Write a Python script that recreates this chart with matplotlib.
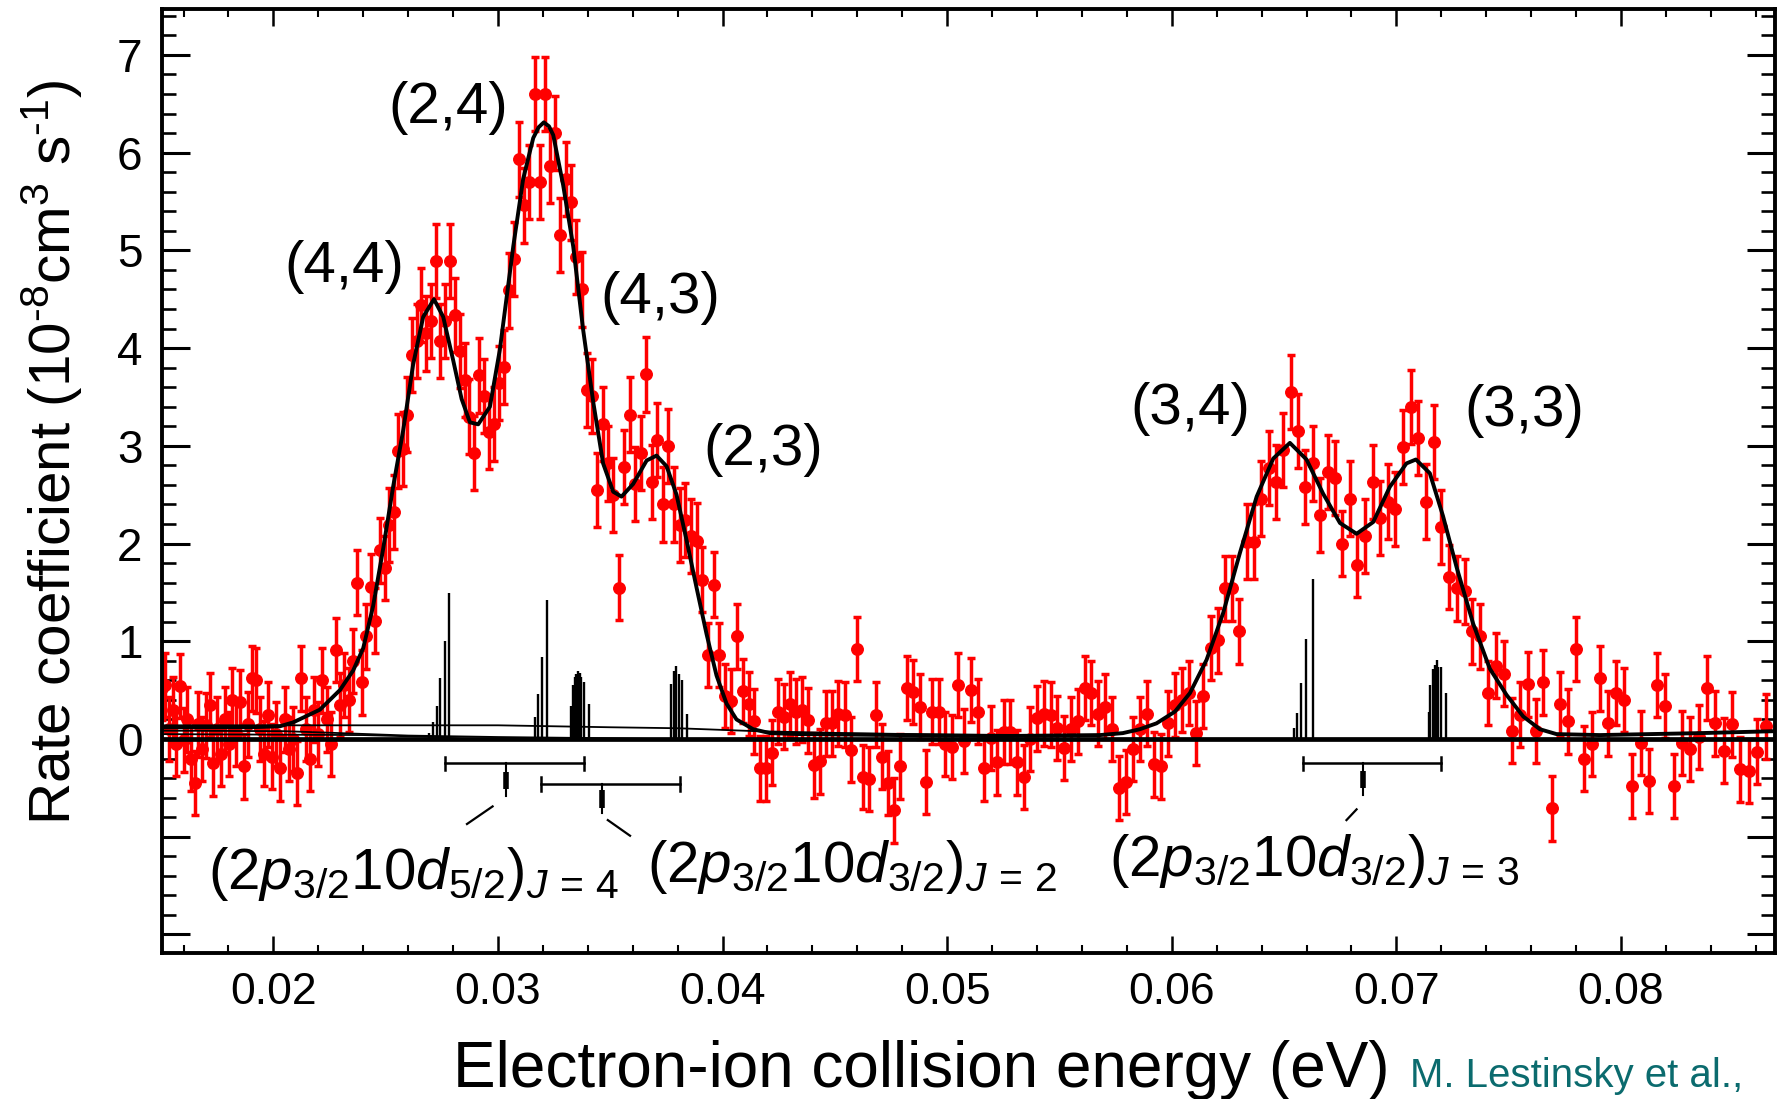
import matplotlib
matplotlib.use('Agg')
import matplotlib.pyplot as plt
import numpy as np
from matplotlib.ticker import MultipleLocator, FuncFormatter

plt.rcParams['font.family'] = ['Liberation Sans', 'DejaVu Sans']
plt.rcParams['mathtext.fontset'] = 'custom'
plt.rcParams['mathtext.rm'] = 'Liberation Sans'
plt.rcParams['mathtext.it'] = 'Liberation Sans:italic'
plt.rcParams['mathtext.bf'] = 'Liberation Sans:bold'

# measured points (eV, 1e-8 cm^3 s^-1)
energy = [
    0.01503, 0.01519, 0.01535, 0.01552, 0.01568, 0.01584, 0.01600, 0.01616, 0.01632, 0.01649,
    0.01665, 0.01682, 0.01699, 0.01716, 0.01733, 0.01750, 0.01767, 0.01784, 0.01801, 0.01817,
    0.01834, 0.01852, 0.01870, 0.01888, 0.01906, 0.01923, 0.01941, 0.01959, 0.01977, 0.01995,
    0.02012, 0.02031, 0.02050, 0.02068, 0.02087, 0.02106, 0.02124, 0.02143, 0.02162, 0.02180,
    0.02199, 0.02218, 0.02238, 0.02257, 0.02277, 0.02296, 0.02315, 0.02335, 0.02354, 0.02374,
    0.02393, 0.02414, 0.02434, 0.02454, 0.02474, 0.02495, 0.02515, 0.02535, 0.02555, 0.02576,
    0.02596, 0.02617, 0.02638, 0.02659, 0.02680, 0.02702, 0.02723, 0.02744, 0.02765, 0.02786,
    0.02807, 0.02829, 0.02851, 0.02873, 0.02895, 0.02917, 0.02939, 0.02961, 0.02982, 0.03004,
    0.03026, 0.03049, 0.03072, 0.03095, 0.03117, 0.03140, 0.03163, 0.03186, 0.03208, 0.03231,
    0.03254, 0.03277, 0.03301, 0.03324, 0.03348, 0.03372, 0.03395, 0.03419, 0.03442, 0.03466,
    0.03489, 0.03514, 0.03538, 0.03563, 0.03587, 0.03611, 0.03636, 0.03660, 0.03685, 0.03709,
    0.03733, 0.03759, 0.03784, 0.03809, 0.03834, 0.03860, 0.03885, 0.03910, 0.03935, 0.03960,
    0.03986, 0.04012, 0.04038, 0.04064, 0.04090, 0.04116, 0.04142, 0.04168, 0.04194, 0.04220,
    0.04246, 0.04273, 0.04300, 0.04327, 0.04354, 0.04380, 0.04407, 0.04434, 0.04461, 0.04488,
    0.04515, 0.04543, 0.04570, 0.04598, 0.04626, 0.04653, 0.04681, 0.04709, 0.04736, 0.04764,
    0.04792, 0.04820, 0.04849, 0.04877, 0.04906, 0.04934, 0.04963, 0.04991, 0.05020, 0.05048,
    0.05077, 0.05106, 0.05136, 0.05165, 0.05194, 0.05224, 0.05253, 0.05282, 0.05312, 0.05341,
    0.05370, 0.05401, 0.05431, 0.05461, 0.05491, 0.05521, 0.05551, 0.05582, 0.05612, 0.05642,
    0.05672, 0.05703, 0.05734, 0.05765, 0.05796, 0.05827, 0.05858, 0.05889, 0.05920, 0.05951,
    0.05982, 0.06014, 0.06046, 0.06077, 0.06109, 0.06141, 0.06173, 0.06205, 0.06237, 0.06268,
    0.06300, 0.06333, 0.06365, 0.06398, 0.06431, 0.06463, 0.06496, 0.06529, 0.06561, 0.06594,
    0.06627, 0.06660, 0.06694, 0.06727, 0.06760, 0.06794, 0.06827, 0.06861, 0.06894, 0.06928,
    0.06961, 0.06996, 0.07030, 0.07064, 0.07098, 0.07133, 0.07167, 0.07201, 0.07236, 0.07270,
    0.07304, 0.07339, 0.07374, 0.07409, 0.07445, 0.07480, 0.07515, 0.07550, 0.07585, 0.07620,
    0.07655, 0.07691, 0.07727, 0.07763, 0.07799, 0.07835, 0.07871, 0.07907, 0.07943, 0.07979,
    0.08015, 0.08051, 0.08088, 0.08125, 0.08162, 0.08198, 0.08235, 0.08272, 0.08309, 0.08346,
    0.08382, 0.08420, 0.08457, 0.08495, 0.08532, 0.08570, 0.08607, 0.08645,
]
rate = [
    0.52, 0.55, 0.10, 0.30, -0.05, 0.54, -0.01, 0.20, -0.20, -0.45,
    0.15, -0.10, 0.14, 0.35, -0.25, 0.10, -0.15, 0.20, -0.05, 0.40,
    0.05, 0.38, -0.28, 0.15, 0.62, 0.60, 0.10, -0.15, 0.25, -0.18,
    0.05, -0.30, 0.20, -0.10, 0.00, -0.35, 0.62, 0.10, -0.20, 0.30,
    0.05, 0.60, 0.20, -0.05, 0.91, 0.35, 0.55, 0.40, 0.80,
    1.60, 0.58, 1.05, 1.56, 1.21, 1.93, 1.75, 2.19, 2.32, 2.95,
    2.97, 3.32, 3.93, 4.07, 4.44, 4.15, 4.28, 4.89, 4.07, 4.28,
    4.89, 4.34, 3.97, 3.67, 3.30,
    2.93, 3.72, 3.51, 3.14, 3.22, 3.64, 3.81, 4.59, 4.91, 5.93,
    5.46, 5.70, 6.60, 5.70, 6.60, 5.86, 6.20, 5.16, 5.73, 5.49,
    4.93, 4.60, 3.57, 3.51, 2.55, 3.22, 2.82, 2.50, 1.55, 2.78,
    3.32, 2.61, 2.93, 3.73, 2.63, 3.06, 2.40, 3.00, 2.40, 2.19,
    2.24, 2.08, 2.03, 1.63, 0.86, 1.58, 0.86, 0.44, 0.39, 1.05,
    0.49, 0.36, 0.18, -0.30, -0.30, -0.14, 0.28, 0.23, 0.36, 0.28,
    0.30, 0.19, -0.27, -0.23, 0.16, 0.16, 0.26, 0.25, -0.11, 0.92,
    -0.39, -0.41, 0.25, -0.18, -0.45, -0.73, -0.28, 0.52, 0.48, 0.33,
    -0.44, 0.28, 0.28, -0.05, -0.08, 0.55, -0.02, 0.50, 0.28, -0.30,
    0.01, -0.24, 0.07, 0.07, -0.24, -0.39, 0.00, 0.21, 0.26, 0.25,
    0.11, -0.09, 0.10, 0.18, 0.52, 0.47, 0.26, 0.33, 0.10, -0.50,
    -0.44, -0.10, 0.10, 0.26, -0.26, -0.28, 0.16, 0.35, 0.40, 0.47,
    0.06, 0.44, 0.93, 1.01, 1.54, 1.54, 1.10, 2.02, 2.02, 2.46,
    2.77, 2.63, 2.96, 3.55, 3.15, 2.58, 2.82, 2.29, 2.73, 2.67,
    2.00, 2.46, 1.78, 2.08, 2.63, 2.26, 2.43, 2.35, 2.99, 3.40,
    3.08, 2.43, 3.04, 2.17, 1.66, 1.54, 1.51, 1.10, 1.05, 0.47,
    0.75, 0.67, 0.085, 0.25, 0.56, 0.08, 0.58, -0.71, 0.36, 0.18,
    0.92, -0.20, -0.05, 0.62, 0.16, 0.47, 0.40, -0.48, -0.04, -0.43,
    0.55, 0.34, -0.48, -0.04, -0.10, 0.02, 0.52, 0.16, -0.12, 0.15,
    -0.31, -0.33, -0.13, 0.13,
]
err_low = 0.33
err_high = 0.38

# fitted curve
fit_e = [0.01504, 0.01673, 0.01895, 0.02029, 0.02088, 0.02207, 0.02296, 0.02355, 0.02400,
         0.02444, 0.02489, 0.02533, 0.02578, 0.02622, 0.02667, 0.02715, 0.02756, 0.02801,
         0.02838, 0.02875, 0.02912, 0.02964, 0.03008, 0.03038, 0.03068, 0.03112, 0.03157,
         0.03181, 0.03204, 0.03227, 0.03246, 0.03290, 0.03335, 0.03379, 0.03424, 0.03468,
         0.03513, 0.03550, 0.03602, 0.03662, 0.03706, 0.03751, 0.03795, 0.03840, 0.03884,
         0.03929, 0.03973, 0.04018, 0.04062, 0.04136, 0.04211, 0.04344, 0.04790, 0.05235,
         0.05680, 0.05782, 0.05858, 0.05932, 0.06014, 0.06081, 0.06155, 0.06229, 0.06303,
         0.06378, 0.06452, 0.06526, 0.06600, 0.06674, 0.06749, 0.06823, 0.06897, 0.06971,
         0.07045, 0.07087, 0.07149, 0.07208, 0.07268, 0.07342, 0.07416, 0.07491, 0.07565,
         0.07639, 0.07713, 0.07906, 0.08351, 0.08685]
fit_r = [0.12, 0.12, 0.12, 0.13, 0.17, 0.30, 0.50, 0.70, 0.93,
         1.36, 1.95, 2.58, 3.16, 3.83, 4.32, 4.50, 4.32, 3.87,
         3.48, 3.24, 3.22, 3.40, 3.98, 4.51, 5.04, 5.73, 6.15,
         6.26, 6.31, 6.27, 6.18, 5.67, 5.04, 4.19, 3.45, 2.82,
         2.53, 2.48, 2.61, 2.85, 2.90, 2.79, 2.50, 2.03, 1.55,
         1.07, 0.65, 0.36, 0.20, 0.10, 0.06, 0.05, 0.04, 0.03,
         0.04, 0.06, 0.10, 0.16, 0.28, 0.47, 0.81, 1.29, 1.90,
         2.48, 2.87, 3.03, 2.86, 2.51, 2.21, 2.10, 2.22, 2.58,
         2.82, 2.86, 2.72, 2.28, 1.76, 1.18, 0.72, 0.45, 0.23,
         0.10, 0.05, 0.04, 0.06, 0.08]

# thin background lines
bgA_e = [0.01504, 0.0300, 0.0350, 0.0380, 0.0415, 0.0455, 0.0500, 0.0545]
bgA_r = [0.14, 0.14, 0.12, 0.11, 0.08, 0.06, 0.045, 0.04]
bgB_e = [0.01504, 0.0205, 0.0230, 0.0260, 0.0300, 0.0340, 0.0370]
bgB_r = [0.085, 0.08, 0.06, 0.035, 0.02, 0.01, 0.0]
bgC_e = [0.01504, 0.0240, 0.0272, 0.0285]
bgC_r = [0.05, 0.04, 0.02, 0.0]

# calculated resonance strengths (stick spectrum)
stick_e = [0.02692, 0.02710, 0.02728, 0.02744, 0.02762, 0.02783,
           0.03164, 0.03180, 0.03195, 0.03218,
           0.03327, 0.03334, 0.03342, 0.03349, 0.03356, 0.03364, 0.03371, 0.03382, 0.03404,
           0.03772, 0.03782, 0.03794, 0.03806, 0.03818, 0.03842,
           0.06544, 0.06556, 0.06575, 0.06596, 0.06627,
           0.07146, 0.07152, 0.07164, 0.07171, 0.07179, 0.07186, 0.07197, 0.07219]
stick_h = [0.06, 0.17, 0.34, 0.62, 1.00, 1.49,
           0.22, 0.46, 0.84, 1.42,
           0.34, 0.55, 0.63, 0.66, 0.70, 0.68, 0.63, 0.58, 0.36,
           0.56, 0.70, 0.75, 0.66, 0.60, 0.26,
           0.11, 0.27, 0.57, 1.02, 1.64,
           0.28, 0.55, 0.72, 0.76, 0.81, 0.74, 0.74, 0.47]

# energy spread markers: (left, right, centre, bar level, block top, block bottom, line end)
spread_bars = [
    (0.02763, 0.03383, 0.03036, -0.25, -0.34, -0.51, -0.58),
    (0.03191, 0.03811, 0.03463, -0.46, -0.52, -0.71, -0.76),
    (0.06585, 0.07201, 0.06852, -0.25, -0.33, -0.50, -0.57),
]
leaders = [((0.02976, -0.69), (0.02862, -0.87)),
           ((0.03489, -0.83), (0.03588, -0.99)),
           ((0.06823, -0.72), (0.06778, -0.83))]

peak_labels = ['(4,4)', '(2,4)', '(4,3)', '(2,3)', '(3,4)', '(3,3)']
peak_pos = [(0.02315, 4.68), (0.02777, 6.30), (0.03721, 4.36),
            (0.04180, 2.80), (0.06083, 3.22), (0.07570, 3.20)]

state_labels = [r'$(2p_{3/2}10d_{5/2})_{J\,=\,4}$',
                r'$(2p_{3/2}10d_{3/2})_{J\,=\,2}$',
                r'$(2p_{3/2}10d_{3/2})_{J\,=\,3}$']
state_pos = [(0.01711, -1.53), (0.03662, -1.46), (0.05722, -1.40)]

fig = plt.figure(figsize=(17.87, 10.99), dpi=100)
ax = fig.add_axes([162/1787, 1 - 953/1099, (1775 - 162)/1787, (953 - 9)/1099])

e = np.array(energy)
r = np.array(rate)
yerr = np.where(r > 2.0, err_high, err_low)
ax.errorbar(e, r, yerr=yerr, fmt='o', color='#ff0000', ms=8.3, elinewidth=2.5,
            capsize=2.8, capthick=2.5, zorder=2)

# stick spectrum + baseline
ax.vlines(stick_e, 0, stick_h, color='black', lw=1.7, zorder=3)
ax.axhline(0, color='black', lw=3.4, zorder=3)
ax.plot(bgA_e, bgA_r, color='black', lw=1.3, zorder=3)
ax.plot(bgB_e, bgB_r, color='black', lw=1.3, zorder=3)
ax.plot(bgC_e, bgC_r, color='black', lw=1.3, zorder=3)
ax.plot(fit_e, fit_r, color='black', lw=2.8, zorder=4, solid_joinstyle='round')

for left, right, mid, lev, b_top, b_bot, l_end in spread_bars:
    ax.plot([left, right], [lev, lev], color='black', lw=1.8)
    ax.plot([left, left], [lev - 0.07, lev + 0.07], color='black', lw=1.8)
    ax.plot([right, right], [lev - 0.07, lev + 0.07], color='black', lw=1.8)
    ax.plot([mid, mid], [lev, l_end], color='black', lw=1.5)
    ax.plot([mid, mid], [b_top, b_bot], color='black', lw=4.0, solid_capstyle='butt')

for (x0, y0), (x1, y1) in leaders:
    ax.plot([x0, x1], [y0, y1], color='black', lw=1.6)

for lab, (px, py) in zip(peak_labels, peak_pos):
    ax.text(px, py, lab, fontsize=42, ha='center', va='baseline')

for lab, (px, py) in zip(state_labels, state_pos):
    ax.text(px, py, lab, fontsize=42, ha='left', va='baseline')

ax.set_xlim(0.01504, 0.08686)
ax.set_ylim(-2.19, 7.47)
ax.xaxis.set_major_locator(MultipleLocator(0.01))
ax.xaxis.set_minor_locator(MultipleLocator(0.002))
ax.yaxis.set_major_locator(MultipleLocator(1))
ax.yaxis.set_minor_locator(MultipleLocator(0.2))
ax.xaxis.set_major_formatter(FuncFormatter(lambda v, p: '%.2f' % v))
ax.yaxis.set_major_formatter(FuncFormatter(lambda v, p: '%d' % round(v) if v > -0.5 else ''))

ax.tick_params(axis='x', which='major', direction='in', length=12, width=1.8,
               top=True, labelsize=32, pad=14)
ax.tick_params(axis='x', which='minor', direction='in', length=6, width=1.5, top=True)
ax.tick_params(axis='y', which='major', direction='in', length=20, width=2.2,
               right=True, labelsize=33, pad=14)
ax.tick_params(axis='y', which='minor', direction='in', length=10, width=1.9, right=True)
for sp in ax.spines.values():
    sp.set_linewidth(2.8)

fig.text(52/1787, 1 - 452/1099, r'Rate coefficient (10$^{\text{-}8}$cm$^3$ s$^{\text{-}1}$)',
         rotation=90, fontsize=42, ha='center', va='center')
fig.text(453/1787, 0.0106, 'Electron-ion collision energy (eV)', fontsize=46,
         ha='left', va='baseline')
fig.text(1410/1787, 0.0106, 'M. Lestinsky et al.,', fontsize=29, color='#0b6b6e',
         ha='left', va='baseline')

fig.savefig('out.png', dpi=100)
